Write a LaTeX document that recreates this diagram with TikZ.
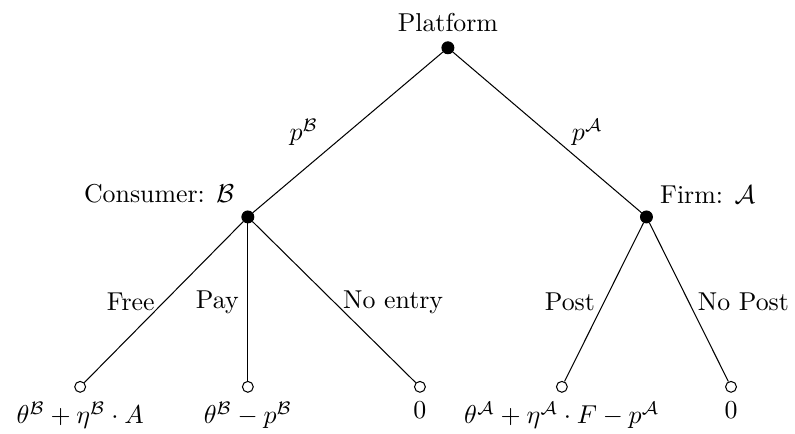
\documentclass[tikz,border=0pt]{standalone}
\usepackage{amsmath,amssymb}
\usetikzlibrary{positioning}

\begin{document}
\begin{tikzpicture}[
    dec/.style={circle, fill=black, draw=black, inner sep=0pt, minimum size=4.6pt},
    term/.style={circle, fill=white, draw=black, inner sep=0pt, minimum size=4.2pt},
    edge/.style={draw=black},
    lbl/.style={inner sep=3.33pt},
]
\useasboundingbox (0,0) rectangle (10.81,5.90);

% --- NODES ---
\node[dec, label={above:Platform}] (P) at (6.09, 5.25) {};

\node[dec, label={above left:Consumer: $\mathcal{B}$}] (C) at (3.37, 2.95) {};

\node[dec, label={above right:Firm: $\mathcal{A}$}] (F) at (8.79, 2.95) {};

% Consumer outcomes
\node[term, label={below:$\theta^{\mathcal{B}}+\eta^{\mathcal{B}}\cdot A$}]
      (free) at (1.09, 0.64) {};
\node[term, label={below:$\theta^{\mathcal{B}}-p^{\mathcal{B}}$}]
      (pay) at (3.37, 0.64) {};
\node[term, label={below:$0$}] (noentry) at (5.71, 0.64) {};

% Firm outcomes
\node[term, label={below:$\theta^{\mathcal{A}}+\eta^{\mathcal{A}}\cdot F-p^{\mathcal{A}}$}]
      (post) at (7.64, 0.64) {};
\node[term, label={below:$0$}] (nopost) at (9.94, 0.64) {};

% --- EDGES ---
\draw[edge] (P) -- (C)
    node[lbl, midway, left, xshift=-8pt] {$p^{\mathcal{B}}$};
\draw[edge] (P) -- (F)
    node[lbl, midway, right, xshift=6pt] {$p^{\mathcal{A}}$};

\draw[edge] (C) -- (free) node[lbl, midway, left] {Free};
\draw[edge] (C) -- (pay) node[lbl, midway, left] {Pay};
\draw[edge] (C) -- (noentry) node[lbl, midway, right] {No entry};

\draw[edge] (F) -- (post) node[lbl, midway, left] {Post};
\draw[edge] (F) -- (nopost) node[lbl, midway, right] {No Post};

\end{tikzpicture}
\end{document}
